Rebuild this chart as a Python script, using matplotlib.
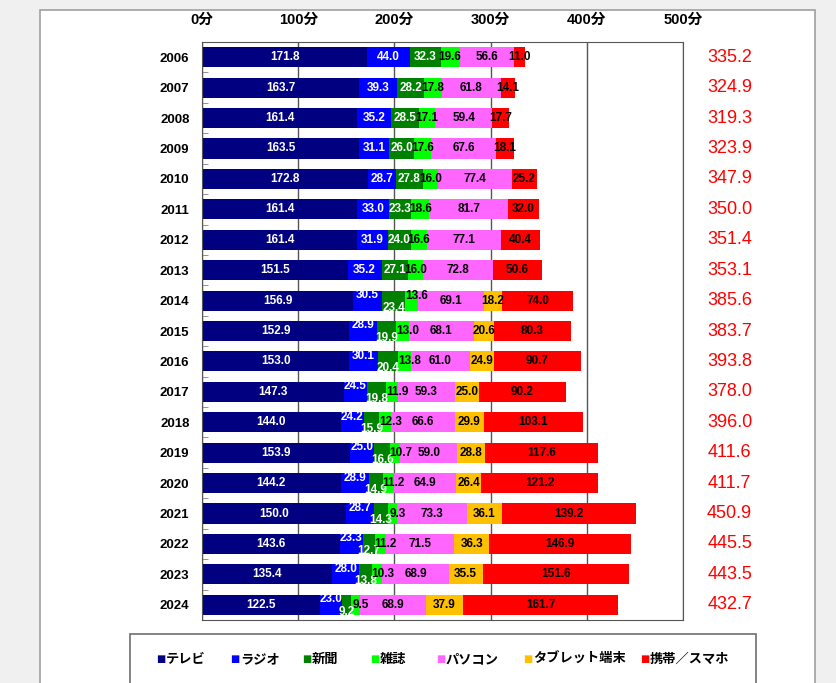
from matplotlib import pyplot as plt
from matplotlib.patches import Rectangle
from matplotlib import font_manager
import numpy as np

years = [str(y) for y in range(2006, 2025)]
series = ['テレビ', 'ラジオ', '新聞', '雑誌', 'パソコン', 'タブレット端末', '携帯／スマホ']
colors = ['#000080', '#0000ff', '#008000', '#00ff00', '#ff66ff', '#ffc000', '#ff0000']
text_colors = ['white', 'white', 'white', 'black', 'black', 'black', 'black']

tv       = [171.8, 163.7, 161.4, 163.5, 172.8, 161.4, 161.4, 151.5, 156.9, 152.9, 153.0, 147.3, 144.0, 153.9, 144.2, 150.0, 143.6, 135.4, 122.5]
radio    = [44.0, 39.3, 35.2, 31.1, 28.7, 33.0, 31.9, 35.2, 30.5, 28.9, 30.1, 24.5, 24.2, 25.0, 28.9, 28.7, 23.3, 28.0, 23.0]
paper    = [32.3, 28.2, 28.5, 26.0, 27.8, 23.3, 24.0, 27.1, 23.4, 19.9, 20.4, 19.8, 15.9, 16.6, 14.9, 14.3, 12.7, 13.8, 9.2]
magazine = [19.6, 17.8, 17.1, 17.6, 16.0, 18.6, 16.6, 16.0, 13.6, 13.0, 13.8, 11.9, 12.3, 10.7, 11.2, 9.3, 11.2, 10.3, 9.5]
pc       = [56.6, 61.8, 59.4, 67.6, 77.4, 81.7, 77.1, 72.8, 69.1, 68.1, 61.0, 59.3, 66.6, 59.0, 64.9, 73.3, 71.5, 68.9, 68.9]
tablet   = [0, 0, 0, 0, 0, 0, 0, 0, 18.2, 20.6, 24.9, 25.0, 29.9, 28.8, 26.4, 36.1, 36.3, 35.5, 37.9]
mobile   = [11.0, 14.1, 17.7, 18.1, 25.2, 32.0, 40.4, 50.6, 74.0, 80.3, 90.7, 90.2, 103.1, 117.6, 121.2, 139.2, 146.9, 151.6, 161.7]
totals   = [335.2, 324.9, 319.3, 323.9, 347.9, 350.0, 351.4, 353.1, 385.6, 383.7, 393.8, 378.0, 396.0, 411.6, 411.7, 450.9, 445.5, 443.5, 432.7]
xticks = [0, 100, 200, 300, 400, 500]

data = [tv, radio, paper, magazine, pc, tablet, mobile]

installed = {f.name for f in font_manager.fontManager.ttflist}
narrow = 'Liberation Sans Narrow' if 'Liberation Sans Narrow' in installed else 'Liberation Sans'
fam = [narrow, 'Noto Sans CJK JP']
plt.rcParams['font.family'] = fam
plt.rcParams['font.weight'] = 'bold'

W, H = 836, 683
fx = lambda x: x / W
fy = lambda y: 1 - y / H

fig = plt.figure(figsize=(W / 100, H / 100), dpi=100, facecolor='#f0f0f0')

# white sheet behind the chart
fig.add_artist(Rectangle((fx(40), -0.02), fx(815) - fx(40), fy(10) + 0.02,
                         transform=fig.transFigure, facecolor='white',
                         edgecolor='#a0a0a0', lw=1.2, zorder=0))

ax = fig.add_axes([fx(202), fy(620), fx(683) - fx(202), fy(42) - fy(620)])
ax.set_facecolor('white')

y = np.arange(len(years))
left = np.zeros(len(years))
for k, vals in enumerate(data):
    vals = np.array(vals)
    ax.barh(y, vals, left=left, height=0.66, color=colors[k], zorder=2)
    for i, v in enumerate(vals):
        if v <= 0:
            continue
        dy = 0
        dx = 0
        # from 2014 on the thin radio/newspaper labels are staggered
        if i >= 8 and k == 1:
            dy = 4
        if i >= 8 and k == 2:
            dy = -5
        if i >= 8 and k == 3:
            dx = 4
            if i == 8:
                dy = 3
        ax.annotate(f'{v:.1f}', (left[i] + v / 2, i), xytext=(dx, dy),
                    textcoords='offset points', ha='center', va='center',
                    fontsize=8.5, color=text_colors[k], zorder=3)
    left += vals

for i, t in enumerate(totals):
    ax.text(548.5, i, f'{t:.1f}', ha='center', va='center', fontsize=13,
            fontweight='normal', color='#ff0000', clip_on=False)

ax.set_xlim(0, 500)
ax.set_ylim(len(years) - 0.5, -0.5)
ax.set_xticks(xticks)
ax.set_xticklabels([f'{t}分' for t in xticks], fontsize=10.5)
ax.xaxis.tick_top()
ax.tick_params(axis='x', length=0, pad=11)
ax.set_yticks(y)
ax.set_yticklabels(years, fontsize=9.5)
ax.tick_params(axis='y', which='major', length=0, pad=9)
ax.set_yticks(np.arange(len(years) - 1) + 0.5, minor=True)
ax.tick_params(axis='y', which='minor', direction='in', length=4, color='#808080')
ax.grid(axis='x', color='#555555', lw=1, zorder=1)
for s in ax.spines.values():
    s.set_color('#555555')

# legend box at the bottom
fig.add_artist(Rectangle((fx(130), -0.02), fx(756) - fx(130), fy(634) + 0.02,
                         transform=fig.transFigure, facecolor='white',
                         edgecolor='#707070', lw=1.2, zorder=1))
square_x = [161, 235, 307, 375, 441, 528, 645]
for k, name in enumerate(series):
    fig.text(fx(square_x[k]), fy(659), '■', color=colors[k], fontsize=7,
             ha='center', va='center', family='DejaVu Sans')
    fig.text(fx(square_x[k] + 5), fy(659), name, fontsize=9.5, ha='left',
             va='center', family='Noto Sans CJK JP', fontweight='bold')

fig.savefig('out.png', dpi=100, facecolor=fig.get_facecolor())
